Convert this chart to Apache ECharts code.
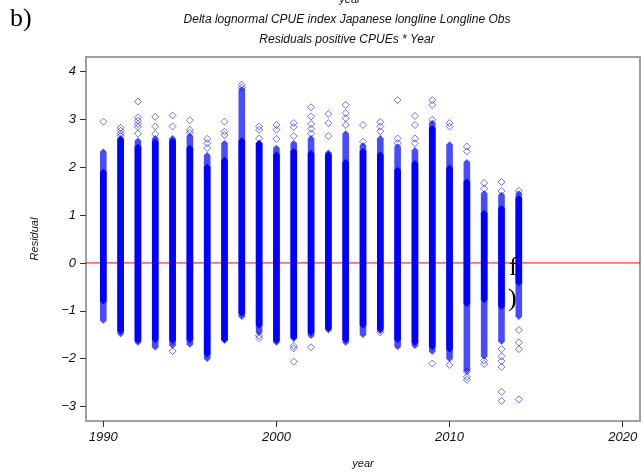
<!DOCTYPE html>
<html>
<head>
<meta charset="utf-8">
<script src="https://cdn.jsdelivr.net/npm/echarts@6/dist/echarts.min.js"></script>
<style>
html,body{margin:0;padding:0;background:#fff;}
#chart{width:642px;height:475px;}
</style>
</head>
<body>
<div id="chart"></div>
<script>
// ---- data ----
var years    = [1990,1991,1992,1993,1994,1995,1996,1997,1998,1999,2000,2001,2002,2003,2004,2005,2006,2007,2008,2009,2010,2011,2012,2013,2014];
// solid (dense) part of each year's residual column
var coreHigh = [1.90,2.58,2.42,2.53,2.55,2.40,2.00,2.15,2.55,2.50,2.26,2.33,2.29,2.26,2.10,2.33,2.26,1.94,2.08,2.81,1.98,1.70,1.04,1.14,1.35];
var coreLow  = [-0.80,-1.42,-1.62,-1.60,-1.62,-1.60,-1.90,-1.60,-1.05,-1.30,-1.62,-1.55,-1.45,-1.37,-1.60,-1.30,-1.38,-1.60,-1.66,-1.75,-1.80,-0.85,-0.77,-0.91,-0.42];
// looser (less dense) extent of each column
var spreadHigh = [2.32,2.60,2.55,2.60,2.60,2.65,2.25,2.50,3.62,2.50,2.40,2.50,2.60,2.30,2.70,2.45,2.60,2.43,2.35,2.92,2.47,2.10,1.45,1.42,1.45];
var spreadLow  = [-1.20,-1.48,-1.66,-1.76,-1.72,-1.70,-2.00,-1.62,-1.12,-1.45,-1.66,-1.58,-1.52,-1.40,-1.66,-1.50,-1.42,-1.75,-1.73,-1.85,-2.00,-2.25,-1.95,-1.64,-1.12];
// isolated residuals
var outlierYear = [1990,1991,1991,1991,1991,1992,1992,1992,1992,1992,1992,1993,1993,1993,1994,1994,1994,1995,1995,1995,1996,1996,1996,1997,1997,1997,
  1998,1998,1999,1999,1999,1999,1999,2000,2000,2000,2001,2001,2001,2001,2001,2001,2002,2002,2002,2002,2002,2002,2003,2003,2003,
  2004,2004,2004,2004,2005,2005,2006,2006,2006,2006,2007,2007,2007,2008,2008,2008,2008,2009,2009,2009,2009,2010,2010,2010,
  2011,2011,2011,2011,2011,2012,2012,2012,2012,2013,2013,2013,2013,2013,2013,2013,2013,2014,2014,2014,2014,2014];
var outlierValue = [2.95,2.82,2.76,2.70,2.65,3.37,3.04,2.97,2.90,2.84,2.70,3.05,2.85,2.69,3.08,2.85,-1.84,2.98,2.78,2.72,2.59,2.50,2.40,2.95,2.74,2.67,
  3.72,3.66,2.85,2.78,2.60,-1.52,-1.57,2.88,2.78,2.59,2.92,2.84,2.65,-1.73,-1.78,-2.06,3.25,3.06,2.90,2.80,2.70,-1.76,3.11,2.92,2.65,
  3.30,3.13,3.02,2.88,2.88,2.53,2.94,2.85,2.75,-1.45,3.40,2.60,2.50,3.07,2.88,2.60,2.50,3.40,3.30,2.99,-2.10,2.92,2.85,-2.13,
  2.43,2.33,-2.27,-2.38,-2.44,1.67,1.55,-2.04,-2.11,1.69,1.50,-1.80,-1.95,-2.05,-2.17,-2.69,-2.88,1.51,-1.40,-1.66,-1.80,-2.85];
var xTicks = [1990,2000,2010,2020];
var yTicks = [-3,-2,-1,0,1,2,3,4];
var xRange = [1989, 2021];
var yRange = [-3.3, 4.3];
var zeroLine = 0;

// ---- chart ----
var chart = echarts.init(document.getElementById('chart'), null, {renderer:'canvas'});
var BLUE = '#0000ff';
function columnItem(color){
  return function(params, api){
    var x = api.value(0), lo = api.value(1), hi = api.value(2);
    var pHi = api.coord([x, hi]), pLo = api.coord([x, lo]);
    var w = 3.3, h = 3.3;
    return {
      type:'polygon',
      shape:{points:[[pHi[0]-w,pHi[1]],[pHi[0],pHi[1]-h],[pHi[0]+w,pHi[1]],[pLo[0]+w,pLo[1]],[pLo[0],pLo[1]+h],[pLo[0]-w,pLo[1]]]},
      style:{fill:color}
    };
  };
}
var spreadData = years.map(function(y,i){return [y, spreadLow[i], spreadHigh[i]];});
var coreData = years.map(function(y,i){return [y, coreLow[i], coreHigh[i]];});
var outData = outlierYear.map(function(y,i){return [y, outlierValue[i]];});
var refData = xRange.map(function(x){return [x, zeroLine];});
var labelFont = {fontFamily:'Liberation Sans, Arial, sans-serif', fontStyle:'italic', fontSize:13, color:'#111'};
function fmt(v){ return v < 0 ? '\u2212' + Math.abs(v) : String(v); }

chart.setOption({
  animation:false,
  backgroundColor:'#fff',
  grid:{left:86, right:2, top:57, bottom:54, show:true, borderColor:'#a0a0a0', borderWidth:2, backgroundColor:'transparent'},
  xAxis:{
    type:'value', min:xRange[0], max:xRange[1], interval:10,
    name:'year', nameLocation:'middle', nameGap:37,
    nameTextStyle:{fontFamily:'Liberation Sans, Arial, sans-serif', fontStyle:'italic', fontSize:11, color:'#111'},
    axisLine:{show:true, onZero:false, lineStyle:{color:'#a0a0a0', width:2}}, splitLine:{show:false},
    axisTick:{show:true, inside:false, length:6, lineStyle:{color:'#333', width:1}, customValues:xTicks},
    axisLabel:Object.assign({margin:10, customValues:xTicks, formatter:function(v){return String(v);}}, labelFont)
  },
  yAxis:{
    type:'value', min:yRange[0], max:yRange[1],
    name:'Residual', nameLocation:'middle', nameGap:46, nameRotate:90,
    nameTextStyle:{fontFamily:'Liberation Sans, Arial, sans-serif', fontStyle:'italic', fontSize:11, color:'#111'},
    axisLine:{show:true, onZero:false, lineStyle:{color:'#a0a0a0', width:2}}, splitLine:{show:false},
    axisTick:{show:true, inside:false, length:6, lineStyle:{color:'#333', width:1}, customValues:yTicks},
    axisLabel:Object.assign({margin:10, customValues:yTicks, formatter:fmt}, labelFont)
  },
  series:[
    {type:'line', z:1, data:refData, symbol:'none', silent:true,
      lineStyle:{color:'#ff0000', width:1}, itemStyle:{color:'#ff0000'}},
    {type:'custom', z:2, renderItem:columnItem('#4a4aff'), data:spreadData, encode:{x:0, y:[1,2]}},
    {type:'custom', z:3, renderItem:columnItem(BLUE), data:coreData, encode:{x:0, y:[1,2]}},
    {type:'scatter', z:4, symbol:'diamond', symbolSize:[7,7], data:outData,
      itemStyle:{color:'rgba(255,255,255,0)', borderColor:'rgba(0,0,255,0.7)', borderWidth:1}}
  ],
  graphic:[
    {type:'text', left:10, top:6, style:{text:'b)', font:'26px "Liberation Serif", "DejaVu Serif", serif', fill:'#000'}},
    {type:'text', x:350, y:-6, style:{text:'year', textAlign:'center', font:'italic 11px "Liberation Sans", Arial, sans-serif', fill:'#111'}},
    {type:'text', x:347, y:14, style:{text:'Delta lognormal CPUE index Japanese longline Longline Obs', textAlign:'center', font:'italic 12px "Liberation Sans", Arial, sans-serif', fill:'#111'}},
    {type:'text', x:347, y:34, style:{text:'Residuals positive CPUEs * Year', textAlign:'center', font:'italic 12px "Liberation Sans", Arial, sans-serif', fill:'#111'}},
    {type:'text', x:509, y:255, z:10, style:{text:'f', font:'26px "Liberation Serif", "DejaVu Serif", serif', fill:'#000'}},
    {type:'text', x:508, y:286, z:10, style:{text:')', font:'26px "Liberation Serif", "DejaVu Serif", serif', fill:'#000'}}
  ]
});
</script>
</body>
</html>
